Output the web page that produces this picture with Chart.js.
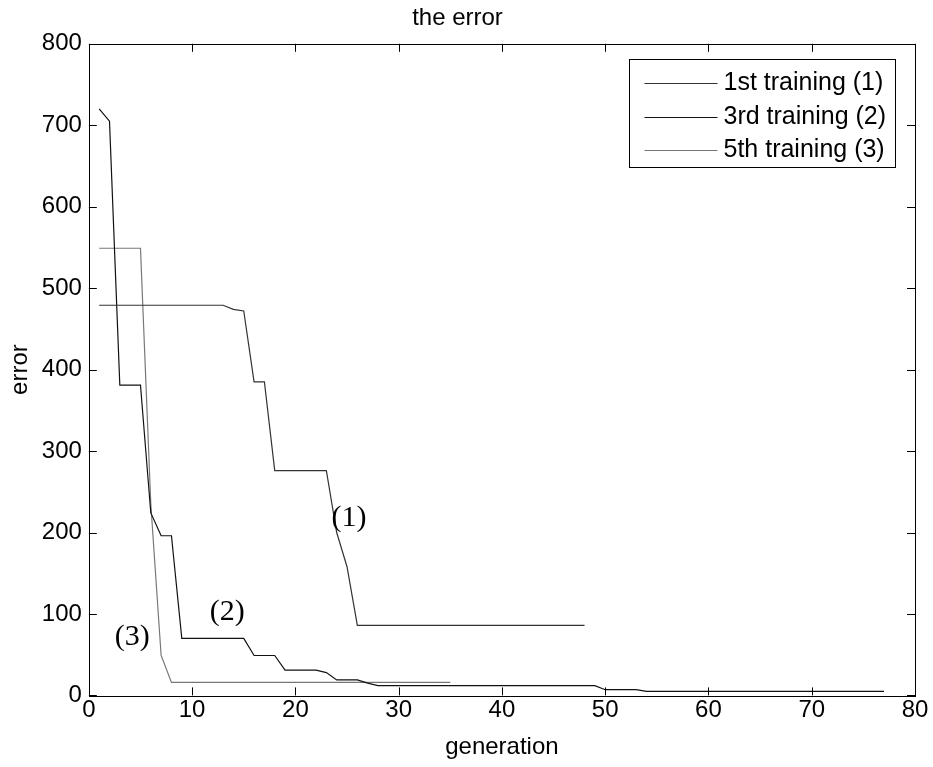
<!DOCTYPE html>
<html>
<head>
<meta charset="utf-8">
<script src="https://cdn.jsdelivr.net/npm/chart.js@4.4.1/dist/chart.umd.min.js"></script>
<style>
html,body{margin:0;padding:0;background:#fff;}
canvas{display:block;}
</style>
</head>
<body>
<canvas id="errChart" width="933" height="767"></canvas>
<script>
// series values, one per generation starting at generation 1
const seriesNames = ["1st training (1)", "3rd training (2)", "5th training (3)"];

const train1 = [
479,479,479,479,479,479,479,479,479,479,479,479,479,
474,472,385,385,
276,276,276,276,276,276,
200,158,
86,86,86,86,86,86,86,86,86,86,86,86,86,86,86,86,86,86,86,86,86,86,86
];

const train3 = [
720,705,381,381,381,224,196,196,
70,70,70,70,70,70,70,
49,49,49,
31,31,31,31,
28,19,19,19,15,
12,12,12,12,12,12,12,12,12,12,12,12,12,12,12,12,12,12,12,12,12,12,
7,7,7,7,
5,5,5,5,5,5,5,5,5,5,5,5,5,5,5,5,5,5,5,5,5,5,5,5
];

const train5 = [
549,549,549,549,549,235,49,
16,16,16,16,16,16,16,16,16,16,16,16,16,16,16,16,16,16,16,16,16,16,16,16,16,16,16,16
];

const lineColors = ["#333333", "#111111", "#777777"];

// text labels placed on the plot, in data units
const notes = [
  {text:"(1)", x:25.2, y:218},
  {text:"(2)", x:13.4, y:102},
  {text:"(3)", x:4.2, y:72}
];

const xTicks = [0,10,20,30,40,50,60,70,80];
const yTicks = [0,100,200,300,400,500,600,700,800];

const toPoints = arr => arr.map((v,i) => ({x:i+1, y:v}));

const uiFont = "'Liberation Sans', Arial, Helvetica, sans-serif";
const fs = 24;

// frame with inward ticks on all four sides, like the original
const framePlugin = {
  id:"frame",
  afterDraw(chart){
    const c = chart.ctx, a = chart.chartArea;
    const xs = chart.scales.x, ys = chart.scales.y;
    const t = 8;
    c.save();
    c.strokeStyle = "#000";
    c.lineWidth = 1;
    c.strokeRect(Math.round(a.left)+0.5, Math.round(a.top)+0.5, Math.round(a.right-a.left), Math.round(a.bottom-a.top));
    c.beginPath();
    xTicks.forEach(v => {
      const px = Math.round(xs.getPixelForValue(v))+0.5;
      c.moveTo(px, a.bottom); c.lineTo(px, a.bottom - t);
      c.moveTo(px, a.top); c.lineTo(px, a.top + t);
    });
    yTicks.forEach(v => {
      const py = Math.round(ys.getPixelForValue(v))+0.5;
      c.moveTo(a.left, py); c.lineTo(a.left + t, py);
      c.moveTo(a.right, py); c.lineTo(a.right - t, py);
    });
    c.stroke();

    // curve labels
    c.fillStyle = "#000";
    c.font = "30px 'Liberation Serif', 'Times New Roman', serif";
    c.textAlign = "center";
    c.textBaseline = "middle";
    notes.forEach(n => {
      c.fillText(n.text, xs.getPixelForValue(n.x), ys.getPixelForValue(n.y));
    });

    // legend box in the upper right corner
    const bw = 266, bh = 108;
    const bx = Math.round(a.right - 20 - bw) + 0.5;
    const by = Math.round(a.top + 15) + 0.5;
    c.fillStyle = "#fff";
    c.fillRect(bx, by, bw, bh);
    c.strokeStyle = "#000";
    c.strokeRect(bx, by, bw, bh);
    c.font = "25px " + uiFont;
    c.textAlign = "left";
    const rows = [23, 57, 90];
    chart.data.datasets.forEach((ds, i) => {
      const ry = Math.round(by + rows[i]) + 0.5;
      c.strokeStyle = ds.borderColor;
      c.beginPath();
      c.moveTo(bx + 15, ry);
      c.lineTo(bx + 88, ry);
      c.stroke();
      c.fillStyle = "#000";
      c.fillText(ds.label, bx + 94, ry);
    });
    c.restore();
  }
};

new Chart(document.getElementById("errChart"), {
  type:"line",
  data:{
    datasets:[train1, train3, train5].map((arr, i) => ({
      label:seriesNames[i],
      data:toPoints(arr),
      borderColor:lineColors[i],
      borderWidth:1.2,
      pointRadius:0,
      fill:false,
      tension:0
    }))
  },
  options:{
    responsive:false,
    animation:false,
    devicePixelRatio:1,
    layout:{padding:{left:0, right:18, top:0, bottom:5}},
    plugins:{
      legend:{display:false},
      tooltip:{enabled:false},
      title:{
        display:true,
        text:"the error",
        color:"#000",
        font:{family:uiFont, size:fs, weight:"normal"},
        padding:{top:4, bottom:11}
      }
    },
    scales:{
      x:{
        type:"linear",
        min:0, max:80,
        afterBuildTicks: s => { s.ticks = xTicks.map(v => ({value:v})); },
        grid:{display:false, drawTicks:false},
        border:{display:false},
        ticks:{color:"#000", font:{family:uiFont, size:fs}, padding:1, maxRotation:0},
        title:{display:true, text:"generation", color:"#000", font:{family:uiFont, size:fs}, padding:{top:7, bottom:0}}
      },
      y:{
        type:"linear",
        min:0, max:800,
        afterBuildTicks: s => { s.ticks = yTicks.map(v => ({value:v})); },
        grid:{display:false, drawTicks:false},
        border:{display:false},
        ticks:{color:"#000", font:{family:uiFont, size:fs}, padding:7},
        title:{display:true, text:"error", color:"#000", font:{family:uiFont, size:fs}, padding:{top:6, bottom:0}}
      }
    }
  },
  plugins:[framePlugin]
});
</script>
</body>
</html>
